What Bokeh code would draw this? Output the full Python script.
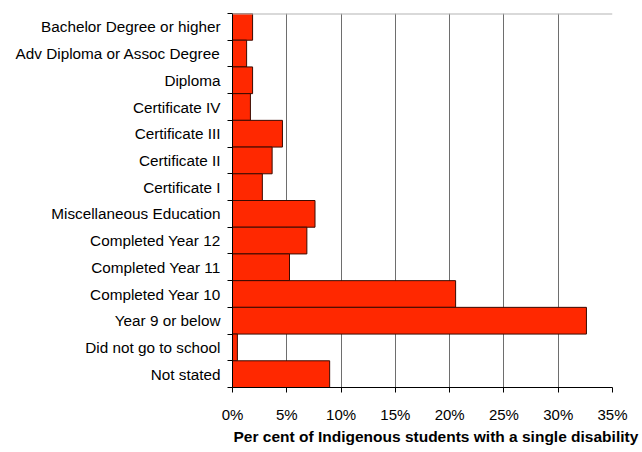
from bokeh.plotting import figure
from bokeh.models import (Range1d, FixedTicker, PrintfTickFormatter, Span, Title,
                          ColumnDataSource)
from bokeh.embed import file_html
from bokeh.resources import INLINE

categories = [
    "Bachelor Degree or higher",
    "Adv Diploma or Assoc Degree",
    "Diploma",
    "Certificate IV",
    "Certificate III",
    "Certificate II",
    "Certificate I",
    "Miscellaneous Education",
    "Completed Year 12",
    "Completed Year 11",
    "Completed Year 10",
    "Year 9 or below",
    "Did not go to school",
    "Not stated",
]
values = [1.85, 1.3, 1.85, 1.65, 4.6, 3.65, 2.75, 7.6, 6.85, 5.25, 20.55, 32.6, 0.45, 8.95]
x_ticks = [0, 5, 10, 15, 20, 25, 30, 35]
x_title = "Per cent of Indigenous students with a single disability"

n = len(categories)
ypos = [n - i for i in range(n)]
source = ColumnDataSource(dict(y=ypos, v=values, cat=categories))

FONT = "Liberation Sans"

p = figure(width=640, height=450, output_backend="svg", toolbar_location=None,
           x_range=Range1d(0, 35), y_range=Range1d(0.5, n + 0.5),
           min_border_left=232, min_border_right=28, min_border_top=13,
           min_border_bottom=63)
p.outline_line_color = None
p.background_fill_color = "white"
p.border_fill_color = "white"

p.hbar(y="y", right="v", left=0, height=1.0, source=source,
       fill_color="#FF2800", line_color="#3a0a00", line_width=1)

# x axis
p.xaxis.ticker = FixedTicker(ticks=x_ticks)
p.xaxis.formatter = PrintfTickFormatter(format="%d%%")
p.xaxis.axis_line_color = "black"
p.xaxis.major_tick_line_color = "black"
p.xaxis.major_tick_out = 5
p.xaxis.major_tick_in = 0
p.xaxis.minor_tick_line_color = None
p.xaxis.major_label_text_font = FONT
p.xaxis.major_label_text_font_size = "15px"
p.xaxis.major_label_text_color = "black"
p.xaxis.major_label_standoff = 13

# y axis: labels at category centres, ticks at category boundaries
p.yaxis.ticker = FixedTicker(ticks=ypos, minor_ticks=[k + 0.5 for k in range(n + 1)])
p.yaxis.major_label_overrides = {y: c for y, c in zip(ypos, categories)}
p.yaxis.axis_line_color = "black"
p.yaxis.major_tick_line_color = None
p.yaxis.major_tick_out = 0
p.yaxis.major_tick_in = 0
p.yaxis.minor_tick_line_color = "black"
p.yaxis.minor_tick_out = 5
p.yaxis.minor_tick_in = 0
p.yaxis.major_label_text_font = FONT
p.yaxis.major_label_text_font_size = "15.3px"
p.yaxis.major_label_text_color = "black"
p.yaxis.major_label_standoff = 7

p.ygrid.grid_line_color = None
p.xgrid.ticker = FixedTicker(ticks=x_ticks)
p.xgrid.grid_line_color = "#6e6e6e"
p.xgrid.grid_line_width = 1

p.add_layout(Span(location=n + 0.5, dimension="width", line_color="#b4b4b4", line_width=2))

p.add_layout(Title(text=x_title, align="left", offset=1, standoff=0,
                   text_font=FONT, text_font_size="15.5px", text_font_style="bold",
                   text_color="black"), "below")

open("out.html", "w").write(file_html(p, INLINE))
